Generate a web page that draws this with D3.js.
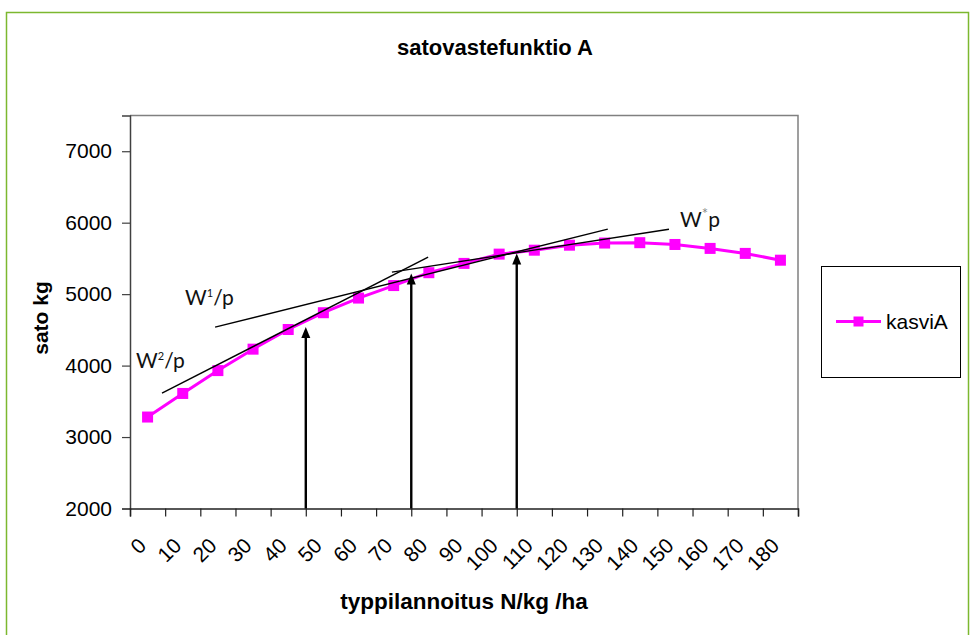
<!DOCTYPE html>
<html>
<head>
<meta charset="utf-8">
<script src="https://cdn.jsdelivr.net/npm/d3@7"></script>
<style>
  html, body { margin: 0; padding: 0; background: #fff; }
  svg { display: block; }
</style>
</head>
<body>
<svg id="chart" width="976" height="635"></svg>
<script>
// Nitrogen application levels (categories) and yield of crop A
const nitrogen = [0, 10, 20, 30, 40, 50, 60, 70, 80, 90, 100, 110, 120, 130, 140, 150, 160, 170, 180];
const yieldA = [3280, 3610, 3930, 4230, 4505, 4740, 4945, 5120, 5300, 5430, 5560, 5615, 5685, 5715, 5720, 5695, 5640, 5570, 5475];
const yTicks = [2000, 3000, 4000, 5000, 6000, 7000];
const seriesName = "kasviA";

// Price-ratio lines drawn over the curve (start/end in N and kg)
const lineN0 = [9.1, 24.2, 74.5];
const lineV0 = [3615, 4538, 5308];
const lineN1 = [84.8, 135.9, 153.3];
const lineV1 = [5517, 5909, 5909];

// Optimum markers: arrows rising from the axis at these N levels
const arrowN = [50, 80, 110];
const arrowTip = [4540, 5290, 5570];

const svg = d3.select("#chart");

// outer frame
svg.append("rect")
  .attr("x", 6.5).attr("y", 12.5).attr("width", 962).attr("height", 640)
  .attr("fill", "#fff").attr("stroke", "#7cb82f").attr("stroke-width", 1.5);

const plotL = 130, plotR = 798, plotT = 115.5, plotB = 508.5;

const x = d3.scaleBand().domain(nitrogen).range([plotL, plotR]).paddingInner(0).paddingOuter(0);
const xN = d3.scaleLinear().domain([0, nitrogen.length * 10]).range([plotL, plotR]);
const y = d3.scaleLinear().domain([2000, 7500]).range([plotB, plotT]);

// plot area border (top and right)
svg.append("path")
  .attr("d", `M${plotL},${plotT}H${plotR}V${plotB}`)
  .attr("fill", "none").attr("stroke", "#808080").attr("stroke-width", 1.5);

// title
svg.append("text")
  .attr("x", 495).attr("y", 55)
  .attr("text-anchor", "middle")
  .style("font-family", "Liberation Sans, Arial, sans-serif")
  .style("font-weight", "bold").style("font-size", "22px")
  .text("satovastefunktio A");

// y axis
const yAxis = svg.append("g")
  .attr("transform", `translate(${plotL},0)`)
  .call(d3.axisLeft(y).tickValues(yTicks).tickSize(8).tickPadding(10).tickFormat(d3.format("d")));
yAxis.select(".domain").attr("stroke", "#404040").attr("stroke-width", 1.5);
yAxis.selectAll(".tick line").attr("stroke", "#404040").attr("stroke-width", 1.2);
yAxis.selectAll("text")
  .style("font-family", "Liberation Sans, Arial, sans-serif")
  .style("font-size", "21px").attr("fill", "#000");

// x axis: tick marks on category boundaries
const xAxis = svg.append("g")
  .attr("transform", `translate(0,${plotB})`)
  .call(d3.axisBottom(xN).tickValues(d3.range(0, nitrogen.length * 10 + 1, 10)).tickSize(8).tickFormat(""));
xAxis.select(".domain").attr("stroke", "#202020").attr("stroke-width", 1.5);
xAxis.selectAll(".tick line").attr("stroke", "#202020").attr("stroke-width", 1.2);

// category labels, rotated
svg.append("g").selectAll("text")
  .data(nitrogen)
  .join("text")
  .attr("transform", d => `translate(${x(d) + x.bandwidth() / 2},547) rotate(-45)`)
  .attr("text-anchor", "end")
  .style("font-family", "Liberation Sans, Arial, sans-serif")
  .style("font-size", "21px")
  .text(d => d);

// axis titles
svg.append("text")
  .attr("x", 464).attr("y", 609)
  .attr("text-anchor", "middle")
  .style("font-family", "Liberation Sans, Arial, sans-serif")
  .style("font-weight", "bold").style("font-size", "22.5px")
  .text("typpilannoitus N/kg /ha");

svg.append("text")
  .attr("transform", "translate(48,318) rotate(-90)")
  .attr("text-anchor", "middle")
  .style("font-family", "Liberation Sans, Arial, sans-serif")
  .style("font-weight", "bold").style("font-size", "21px")
  .text("sato kg");

// series line and markers
const pts = nitrogen.map((n, i) => [x(n) + x.bandwidth() / 2, y(yieldA[i])]);
svg.append("path")
  .attr("d", d3.line()(pts))
  .attr("fill", "none").attr("stroke", "#ff00ff").attr("stroke-width", 3)
  .attr("stroke-linejoin", "round");
svg.append("g").selectAll("rect")
  .data(pts)
  .join("rect")
  .attr("x", d => d[0] - 5.5).attr("y", d => d[1] - 5.5)
  .attr("width", 11).attr("height", 11)
  .attr("fill", "#ff00ff");

// price-ratio lines
svg.append("g").selectAll("line")
  .data(lineN0.map((n, i) => i))
  .join("line")
  .attr("x1", i => xN(lineN0[i])).attr("y1", i => y(lineV0[i]))
  .attr("x2", i => xN(lineN1[i])).attr("y2", i => y(lineV1[i]))
  .attr("stroke", "#000").attr("stroke-width", 1.4);

// arrows
const arrows = svg.append("g");
arrowN.forEach((n, i) => {
  const ax = xN(n), tip = y(arrowTip[i]);
  arrows.append("line")
    .attr("x1", ax).attr("y1", plotB).attr("x2", ax).attr("y2", tip + 8)
    .attr("stroke", "#000").attr("stroke-width", 2.4);
  arrows.append("path")
    .attr("d", `M${ax},${tip}L${ax - 4.5},${tip + 11}L${ax + 4.5},${tip + 11}Z`)
    .attr("fill", "#000");
});

// line labels
const labelFont = "Lato, 'Open Sans', sans-serif";
function wLabel(px, py, sup, supColor, supSize, slash) {
  const t = svg.append("text")
    .attr("x", px).attr("y", py)
    .style("font-family", labelFont).style("font-size", "21px").attr("fill", "#111");
  t.append("tspan").text("W");
  t.append("tspan").attr("dy", -8).style("font-size", supSize).attr("fill", supColor).text(sup);
  t.append("tspan").attr("dy", 8).text(slash ? "/p" : "p");
}
wLabel(136, 367.5, "2", "#111", "11px", true);
wLabel(185, 305, "1", "#111", "11px", true);
wLabel(680, 227, "*", "#888", "15px", false);

// legend
const lg = svg.append("g");
lg.append("rect")
  .attr("x", 821.5).attr("y", 266.5).attr("width", 139).attr("height", 111)
  .attr("fill", "#fff").attr("stroke", "#000").attr("stroke-width", 1);
lg.append("line")
  .attr("x1", 836).attr("x2", 881).attr("y1", 321.5).attr("y2", 321.5)
  .attr("stroke", "#ff00ff").attr("stroke-width", 3);
lg.append("rect")
  .attr("x", 853.5).attr("y", 316.5).attr("width", 10).attr("height", 10)
  .attr("fill", "#ff00ff");
lg.append("text")
  .attr("x", 886).attr("y", 328.5)
  .style("font-family", "Liberation Sans, Arial, sans-serif").style("font-size", "21px")
  .text(seriesName);
</script>
</body>
</html>
